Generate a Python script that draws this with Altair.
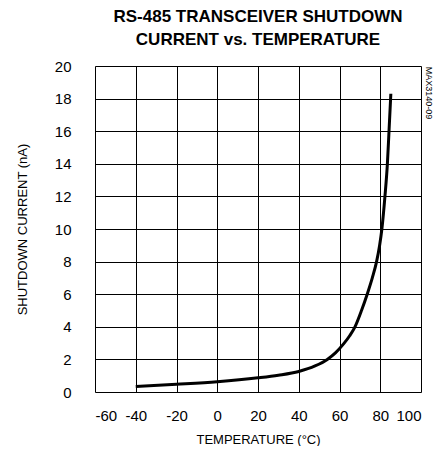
import altair as alt
import pandas as pd

# Data
temp = [-40, -20, 0, 20, 30, 40, 48, 54, 58, 62, 65, 67.6, 70.8, 73.6, 76.1, 78.2, 79.7, 80.8, 82.3, 83.5, 84.3, 85.2]
current = [0.33, 0.47, 0.63, 0.87, 1.03, 1.26, 1.6, 2.0, 2.4, 2.95, 3.45, 4.0, 5.0, 6.0, 7.0, 8.0, 9.0, 10.0, 12.0, 14.0, 16.0, 18.3]

x_ticks = [-60, -40, -20, 0, 20, 40, 60, 80, 100]
y_ticks = [0, 2, 4, 6, 8, 10, 12, 14, 16, 18, 20]

FONT = "Liberation Sans, Arial, sans-serif"

df = pd.DataFrame({"t": temp, "i": current})

W, H = 326, 326

line = alt.Chart(df).mark_line(color="black", strokeWidth=3, interpolate="monotone").encode(
    x=alt.X("t:Q", scale=alt.Scale(domain=[-60, 100], nice=False),
            axis=alt.Axis(values=x_ticks, title="TEMPERATURE (°C)", grid=True,
                          gridColor="black", gridWidth=1, gridOpacity=1,
                          ticks=False, domain=False, labelPadding=16,
                          labelExpr="'' + datum.value",
                          labelFont=FONT, labelFontSize=15, labelColor="black",
                          titleFont=FONT, titleFontSize=13, titleFontWeight="normal",
                          titleColor="black", titlePadding=10)),
    y=alt.Y("i:Q", scale=alt.Scale(domain=[0, 20], nice=False),
            axis=alt.Axis(values=y_ticks, title="SHUTDOWN CURRENT (nA)", grid=True,
                          gridColor="black", gridWidth=1, gridOpacity=1,
                          ticks=False, domain=False, labelPadding=24,
                          labelFont=FONT, labelFontSize=15, labelColor="black",
                          titleFont=FONT, titleFontSize=13, titleFontWeight="normal",
                          titleColor="black", titlePadding=25)),
)

code = alt.Chart(pd.DataFrame({"s": ["MAX3140-09"]})).mark_text(
    angle=90, align="center", baseline="middle", font=FONT, fontSize=9, color="black"
).encode(x=alt.value(W + 8), y=alt.value(27), text="s:N")

chart = alt.layer(line, code).properties(
    width=W, height=H,
    title=alt.TitleParams(
        text=["RS-485 TRANSCEIVER SHUTDOWN", "CURRENT vs. TEMPERATURE"],
        font=FONT, fontSize=17, fontWeight="bold", color="black",
        anchor="middle", offset=10, lineHeight=23,
    ),
    autosize=alt.AutoSizeParams(type="none"),
    padding={"left": 87, "top": 58, "right": 14, "bottom": 54},
).configure_view(stroke="black", strokeWidth=3).configure(background="white")

chart.save("out.html", embed_options={"renderer": "svg", "actions": False})
